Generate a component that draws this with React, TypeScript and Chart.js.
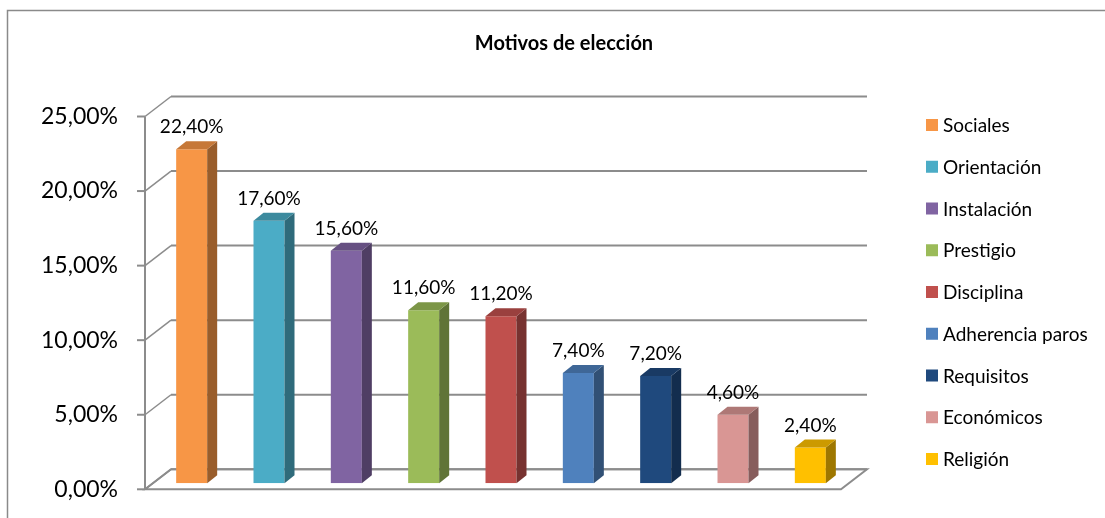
import React, { useEffect, useRef } from 'react';
import { Chart, registerables } from 'chart.js';

Chart.register(...registerables);

const title = 'Motivos de elección';
const categories = ['Sociales', 'Orientación', 'Instalación', 'Prestigio', 'Disciplina', 'Adherencia paros', 'Requisitos', 'Económicos', 'Religión'];
const values = [22.4, 17.6, 15.6, 11.6, 11.2, 7.4, 7.2, 4.6, 2.4];
const colors = ['#F79646', '#4BACC6', '#8064A2', '#9BBB59', '#C0504D', '#4F81BD', '#1F497D', '#D99694', '#FFC000'];
const yMin = 0;
const yMax = 25;
const yStep = 5;

const FONT = 'Lato, "Open Sans", sans-serif';
const GRID = '#8c8c8c';
const FRONT = { dx: -8, dy: 6 };
const BACK = { dx: 18, dy: -14 };
const DEPTH = { dx: 10, dy: -8 };

const fmt = (v: number) => v.toFixed(2).replace('.', ',') + '%';

function shade(hex: string, f: number) {
  const n = parseInt(hex.slice(1), 16);
  const r = Math.round(((n >> 16) & 255) * f);
  const g = Math.round(((n >> 8) & 255) * f);
  const b = Math.round((n & 255) * f);
  return `rgb(${r},${g},${b})`;
}

const threeD = {
  id: 'threeD',
  beforeDatasetsDraw(chart: any) {
    const { ctx, chartArea: a } = chart;
    const ys = chart.scales.y;
    const y0 = ys.getPixelForValue(yMin);
    ctx.save();
    // floor
    ctx.beginPath();
    ctx.moveTo(a.left + FRONT.dx, y0 + FRONT.dy);
    ctx.lineTo(a.right + FRONT.dx, y0 + FRONT.dy);
    ctx.lineTo(a.right + BACK.dx, y0 + BACK.dy);
    ctx.lineTo(a.left + BACK.dx, y0 + BACK.dy);
    ctx.closePath();
    ctx.fillStyle = '#ffffff';
    ctx.fill();
    ctx.strokeStyle = GRID;
    ctx.lineWidth = 2;
    ctx.stroke();
    // gridlines on left and back walls
    ys.ticks.forEach((t: any) => {
      const py = ys.getPixelForValue(t.value);
      ctx.beginPath();
      ctx.lineWidth = 1.5;
      ctx.moveTo(a.left + FRONT.dx, py + FRONT.dy);
      ctx.lineTo(a.left + BACK.dx, py + BACK.dy);
      ctx.stroke();
      ctx.beginPath();
      ctx.lineWidth = 2;
      ctx.moveTo(a.left + BACK.dx, py + BACK.dy);
      ctx.lineTo(a.right + BACK.dx, py + BACK.dy);
      ctx.stroke();
      // tick mark
      ctx.beginPath();
      ctx.moveTo(a.left + FRONT.dx - 8, py + FRONT.dy);
      ctx.lineTo(a.left + FRONT.dx, py + FRONT.dy);
      ctx.stroke();
    });
    // front vertical axis
    ctx.beginPath();
    ctx.lineWidth = 2;
    ctx.moveTo(a.left + FRONT.dx, ys.getPixelForValue(yMax) + FRONT.dy);
    ctx.lineTo(a.left + FRONT.dx, y0 + FRONT.dy);
    ctx.stroke();
    ctx.restore();
  },
  afterDatasetsDraw(chart: any) {
    const { ctx } = chart;
    const meta = chart.getDatasetMeta(0);
    ctx.save();
    meta.data.forEach((el: any, i: number) => {
      const { x, y, base, width } = el.getProps(['x', 'y', 'base', 'width'], true);
      const x0 = x - width / 2;
      const x1 = x + width / 2;
      // side face
      ctx.beginPath();
      ctx.moveTo(x1, y);
      ctx.lineTo(x1 + DEPTH.dx, y + DEPTH.dy);
      ctx.lineTo(x1 + DEPTH.dx, base + DEPTH.dy);
      ctx.lineTo(x1, base);
      ctx.closePath();
      ctx.fillStyle = shade(colors[i], 0.62);
      ctx.fill();
      // top face
      ctx.beginPath();
      ctx.moveTo(x0, y);
      ctx.lineTo(x0 + DEPTH.dx, y + DEPTH.dy);
      ctx.lineTo(x1 + DEPTH.dx, y + DEPTH.dy);
      ctx.lineTo(x1, y);
      ctx.closePath();
      ctx.fillStyle = shade(colors[i], 0.8);
      ctx.fill();
      // data label
      ctx.fillStyle = '#000';
      ctx.font = `19px ${FONT}`;
      ctx.textAlign = 'center';
      ctx.textBaseline = 'alphabetic';
      ctx.fillText(fmt(values[i]), x, y - 16);
    });
    ctx.restore();
  },
  afterDraw(chart: any) {
    const { ctx } = chart;
    ctx.save();
    // outer border
    ctx.strokeStyle = '#8a8a8a';
    ctx.lineWidth = 1.5;
    ctx.beginPath();
    ctx.moveTo(7.5, 520);
    ctx.lineTo(7.5, 10.5);
    ctx.lineTo(1110, 10.5);
    ctx.stroke();
    // title
    ctx.fillStyle = '#000';
    ctx.font = `bold 20px ${FONT}`;
    ctx.textAlign = 'center';
    ctx.textBaseline = 'middle';
    ctx.fillText(title, 564, 44);
    // legend
    ctx.font = `19px ${FONT}`;
    ctx.textAlign = 'left';
    categories.forEach((c, i) => {
      const cy = 125 + i * 41.75;
      ctx.fillStyle = colors[i];
      ctx.fillRect(926, cy - 6, 12, 12);
      ctx.fillStyle = '#000';
      ctx.fillText(c, 943, cy + 1);
    });
    ctx.restore();
  },
};

export default function App() {
  const ref = useRef<HTMLCanvasElement>(null);
  useEffect(() => {
    document.body.style.margin = '0';
    const chart = new Chart(ref.current!, {
      type: 'bar',
      data: {
        labels: categories,
        datasets: [
          {
            data: values,
            backgroundColor: colors,
            borderWidth: 0,
            barPercentage: 0.401,
            categoryPercentage: 1,
          },
        ],
      },
      options: {
        responsive: false,
        animation: false,
        layout: { padding: { top: 110.5, bottom: 34.7, left: 0, right: 256 } },
        plugins: { legend: { display: false }, tooltip: { enabled: false }, title: { display: false } },
        scales: {
          x: { display: false },
          y: {
            min: yMin,
            max: yMax,
            afterFit: (s: any) => {
              s.width = 153;
              s.paddingTop = 0;
              s.paddingBottom = 0;
            },
            grid: { display: false, drawTicks: false },
            border: { display: false },
            ticks: {
              stepSize: yStep,
              padding: 35,
              labelOffset: 6,
              color: '#000',
              font: { family: FONT, size: 23 },
              callback: (v: any) => fmt(Number(v)),
            },
          },
        },
      },
      plugins: [threeD],
    });
    return () => chart.destroy();
  }, []);
  return (
    <div style={{ width: 1105, height: 518, position: 'relative' }}>
      <canvas ref={ref} width={1105} height={518} style={{ display: 'block' }} />
    </div>
  );
}
